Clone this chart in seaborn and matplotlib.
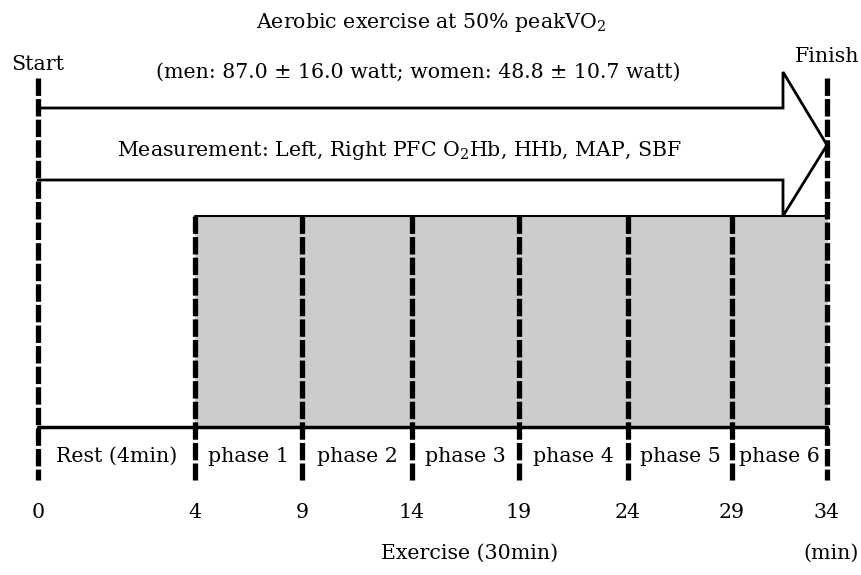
import numpy as np
import matplotlib
matplotlib.use("Agg")
import matplotlib.pyplot as plt
import seaborn as sns

# ---- data ----
boundary_min = [0, 4, 9, 14, 19, 24, 29, 34]
segment_labels = ["Rest (4min)", "phase 1", "phase 2", "phase 3",
                  "phase 4", "phase 5", "phase 6"]
title_text = "Aerobic exercise at 50% peakVO$_2$"
load_text = "(men: 87.0 ± 16.0 watt; women: 48.8 ± 10.7 watt)"
measure_text = "Measurement: Left, Right PFC O$_2$Hb, HHb, MAP, SBF"
exercise_label = "Exercise (30min)"
unit_label = "(min)"

# ---- layout (drawing canvas in reference pixel units) ----
boundary_x = [38, 195, 302, 412, 519, 628, 732, 827]

sns.set_theme(style="white")
plt.rcParams["font.family"] = ["DejaVu Serif"]
plt.rcParams["mathtext.fontset"] = "dejavuserif"
plt.rcParams["text.color"] = "black"

fig = plt.figure(figsize=(8.62, 5.75), dpi=100)
ax = fig.add_axes([0, 0, 1, 1])
ax.set_xlim(0, 862)
ax.set_ylim(575, 0)
ax.axis("off")

fs = 14.8
dash = dict(color="black", lw=3.8, linestyles=(0, (3.3, 0.6)))

# gray exercise block
ax.fill_between([boundary_x[1], boundary_x[-1]], 216, 427,
                color="#cccccc", zorder=1)
ax.plot([boundary_x[1], boundary_x[-1]], [216, 216], color="black", lw=1.5, zorder=2)
ax.plot([boundary_x[0], boundary_x[-1]], [427, 427], color="black", lw=2.5, zorder=2)

# arrow outline
ax_l, ax_b = boundary_x[0], 783
ax.plot([ax_l, ax_b, ax_b, boundary_x[-1], ax_b, ax_b, ax_l],
        [108, 108, 72, 145, 216, 180, 180], color="black", lw=2, zorder=3,
        solid_joinstyle="miter")

# dashed boundaries
ax.vlines([boundary_x[0], boundary_x[-1]], 78, 480, zorder=4, **dash)
ax.vlines(boundary_x[1:-1], 216, 480, zorder=4, **dash)

# segment labels and ticks
for i, lab in enumerate(segment_labels):
    xc = (boundary_x[i] + boundary_x[i + 1]) / 2
    ax.text(xc, 456, lab, ha="center", va="center", fontsize=fs, zorder=5)
for xb, m in zip(boundary_x, boundary_min):
    ax.text(xb, 512, str(m), ha="center", va="center", fontsize=fs)

ax.text(431, 22, title_text, ha="center", va="center", fontsize=fs)
ax.text(418, 72, load_text, ha="center", va="center", fontsize=fs)
ax.text(400, 150, measure_text, ha="center", va="center", fontsize=fs)
ax.text(38, 64, "Start", ha="center", va="center", fontsize=fs)
ax.text(859, 57, "Finish", ha="right", va="center", fontsize=fs)
ax.text(470, 553, exercise_label, ha="center", va="center", fontsize=fs)
ax.text(859, 553, unit_label, ha="right", va="center", fontsize=fs)

fig.savefig("out.png", dpi=100)
